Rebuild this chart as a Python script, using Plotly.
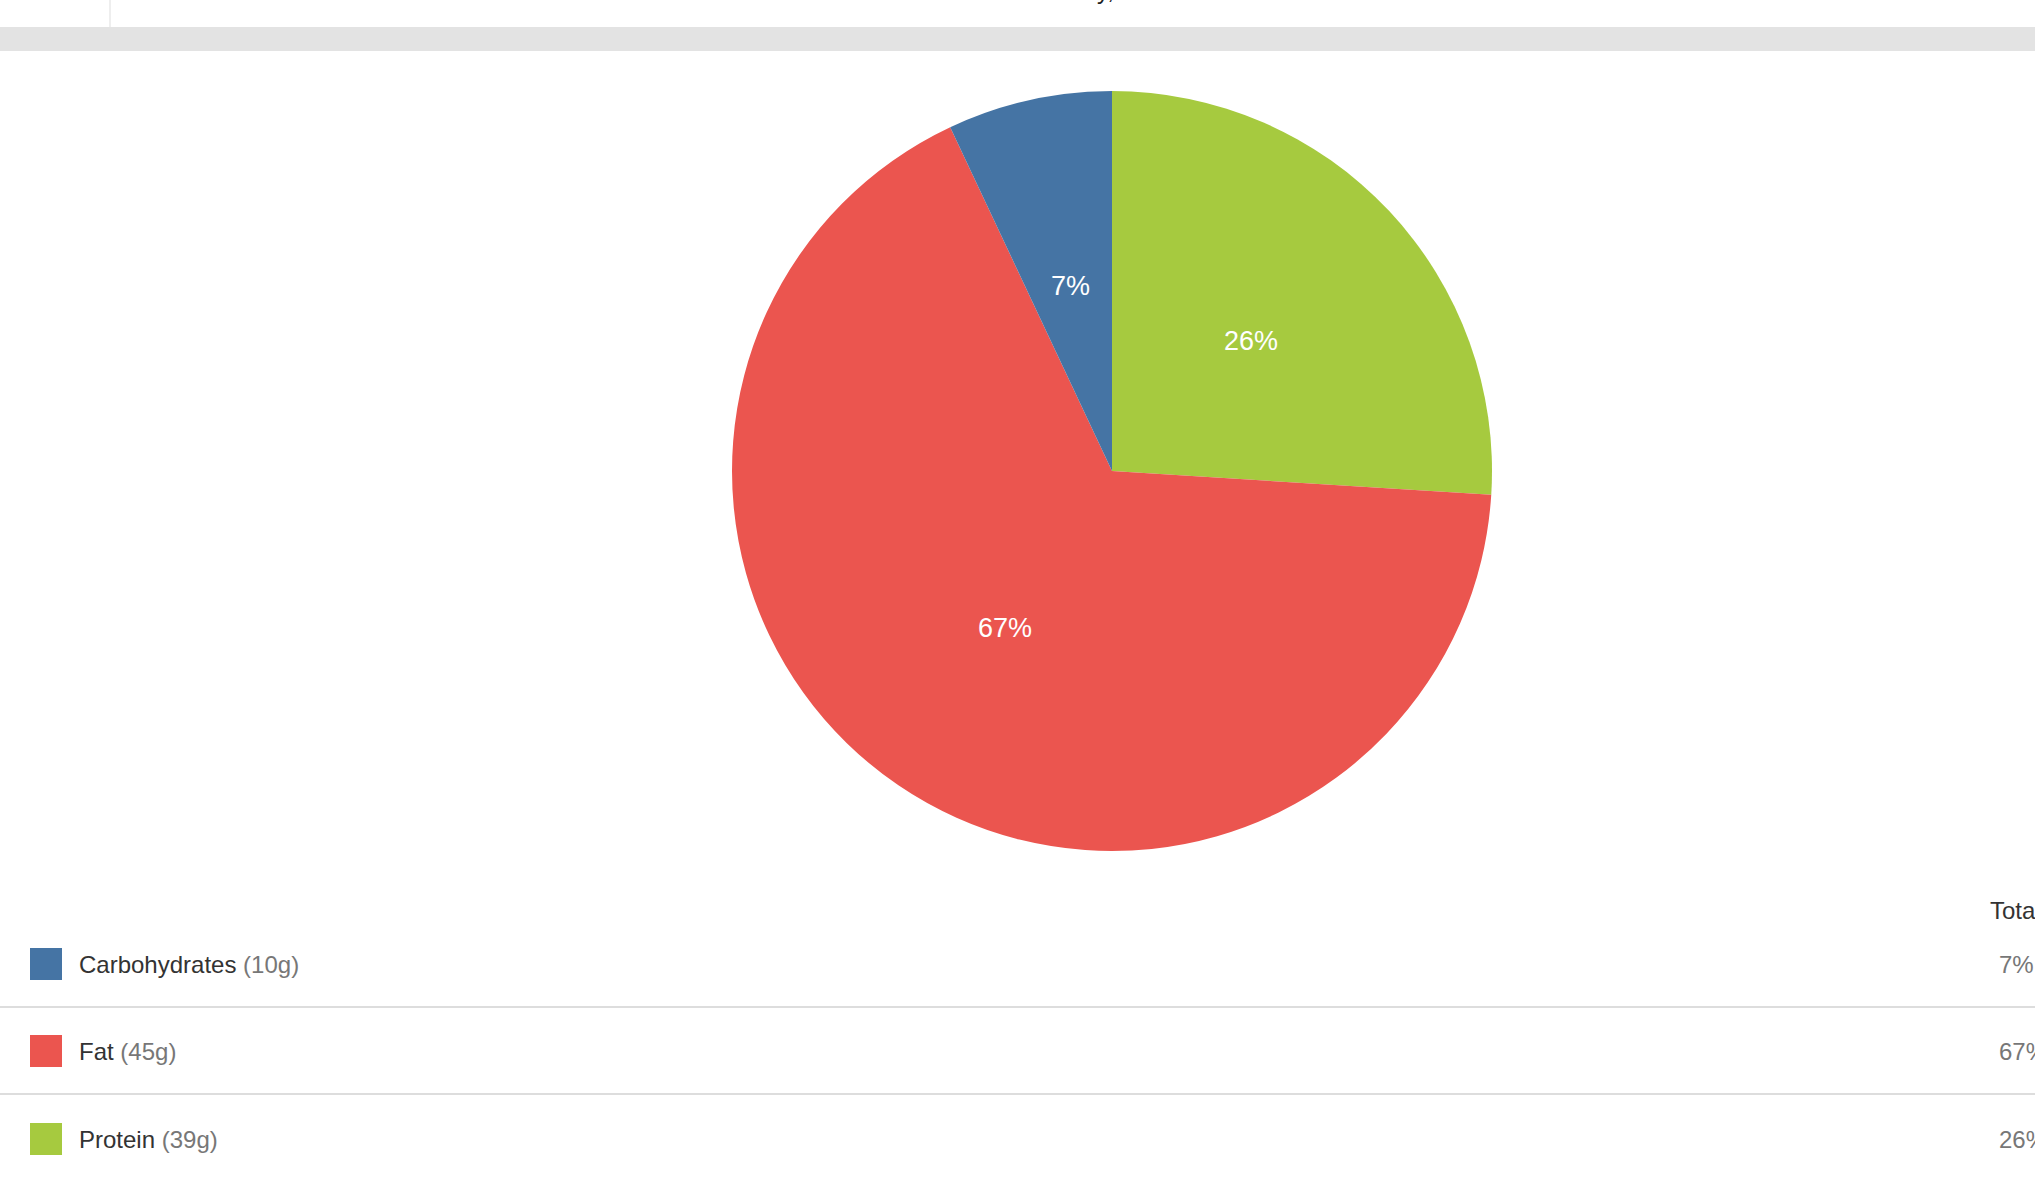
import math
import plotly.graph_objects as go

# ---- data ----
nutrients = ["Carbohydrates", "Fat", "Protein"]
grams = ["10g", "45g", "39g"]
percent_of_total = [7, 67, 26]
colors = ["#4574A4", "#EB554F", "#A6CA3F"]
table_header = "Total"

W, H = 2035, 1191


def px(x):
    """page pixel x -> paper coordinate"""
    return x / W


def py(y):
    """page pixel y -> paper coordinate"""
    return 1 - y / H


font_fam = "Liberation Sans, Arial, Helvetica, sans-serif"

fig = go.Figure()

# pie geometry (page pixels); slices drawn clockwise from 12 o'clock in reverse order
cx, cy, r = 1112, 471, 380
pie_labels = nutrients[::-1]
pie_values = percent_of_total[::-1]
pie_colors = colors[::-1]
fig.add_trace(go.Pie(
    labels=pie_labels,
    values=pie_values,
    sort=False,
    direction="clockwise",
    rotation=0,
    marker=dict(colors=pie_colors, line=dict(width=0)),
    textinfo="none",
    hoverinfo="label+percent",
    showlegend=False,
    domain=dict(x=[px(cx - r), px(cx + r)], y=[py(cy + r), py(cy - r)]),
))

shapes = []
annotations = []

# slice labels at half radius on each slice's mid-angle
total = sum(pie_values)
cum = 0.0
for v in pie_values:
    mid = (cum + v / 2) / total * 2 * math.pi
    cum += v
    lx = cx + 0.5 * r * math.sin(mid)
    ly = cy - 0.5 * r * math.cos(mid)
    annotations.append(dict(xref="paper", yref="paper", x=px(lx), y=py(ly),
                            text=f"{v}%", showarrow=False,
                            xanchor="center", yanchor="middle",
                            font=dict(size=27, color="white", family=font_fam)))

# top page chrome
shapes.append(dict(type="rect", xref="paper", yref="paper", x0=0, x1=1,
                   y0=py(51), y1=py(27), fillcolor="#E3E3E3", line=dict(width=0), layer="below"))
shapes.append(dict(type="line", xref="paper", yref="paper", x0=px(110), x1=px(110),
                   y0=py(27), y1=1, line=dict(color="#DDDDDD", width=1)))
annotations.append(dict(xref="paper", yref="paper", x=px(1105), y=py(-9),
                        text="y,", showarrow=False, xanchor="center", yanchor="middle",
                        font=dict(size=24, color="#222222", family=font_fam)))

# table header
annotations.append(dict(xref="paper", yref="paper", x=px(1988), y=py(910), text=table_header,
                        showarrow=False, xanchor="left", yanchor="middle",
                        font=dict(size=24, color="#333333", family=font_fam)))

row_centers = [964, 1051, 1139]
separators = [1007, 1094]
for sy in separators:
    shapes.append(dict(type="line", xref="paper", yref="paper", x0=0, x1=1,
                       y0=py(sy), y1=py(sy), line=dict(color="#DDDDDD", width=2)))

for i, name in enumerate(nutrients):
    yc = row_centers[i]
    shapes.append(dict(type="rect", xref="paper", yref="paper",
                       x0=px(30), x1=px(62), y0=py(yc + 16), y1=py(yc - 16),
                       fillcolor=colors[i], line=dict(width=0)))
    annotations.append(dict(xref="paper", yref="paper", x=px(77), y=py(yc),
                            text=f"<span style='color:#333333'>{name}</span> "
                                 f"<span style='color:#777777'>({grams[i]})</span>",
                            showarrow=False, xanchor="left", yanchor="middle",
                            font=dict(size=24, color="#333333", family=font_fam)))
    annotations.append(dict(xref="paper", yref="paper", x=px(1997), y=py(yc),
                            text=f"{percent_of_total[i]}%",
                            showarrow=False, xanchor="left", yanchor="middle",
                            font=dict(size=24, color="#777777", family=font_fam)))

fig.update_layout(
    width=W, height=H,
    margin=dict(l=0, r=0, t=0, b=0),
    paper_bgcolor="white",
    plot_bgcolor="white",
    shapes=shapes,
    annotations=annotations,
)

fig.write_html(
    "out.html",
    config={"displayModeBar": False},
    post_script="document.body.style.margin='0';document.body.style.overflow='hidden';",
)
